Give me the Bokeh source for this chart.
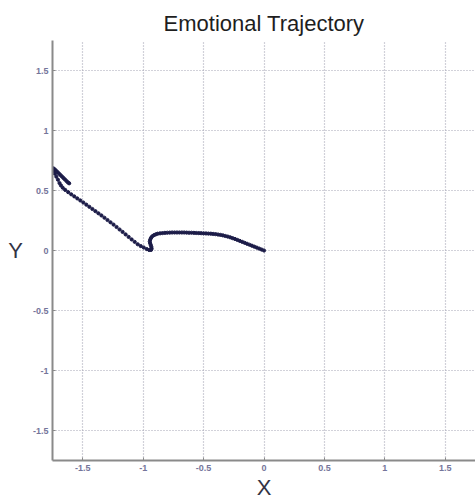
from bokeh.plotting import figure
from bokeh.models import Range1d, FixedTicker
from bokeh.embed import file_html
from bokeh.resources import INLINE

title_text = "Emotional Trajectory"
x_label = "X"
y_label = "Y"
tick_values = [-1.5, -1.0, -0.5, 0.0, 0.5, 1.0, 1.5]
tick_labels = ["-1.5", "-1", "-0.5", "0", "0.5", "1", "1.5"]

traj_x = [0.0, -0.02, -0.04, -0.06, -0.08, -0.10, -0.12, -0.14, -0.16, -0.18,
          -0.20, -0.22, -0.24, -0.26, -0.28, -0.30, -0.32, -0.34, -0.36, -0.38,
          -0.40, -0.42, -0.44, -0.46, -0.48, -0.50, -0.52, -0.54, -0.56, -0.58,
          -0.60, -0.62, -0.64, -0.66, -0.68, -0.70, -0.72, -0.74, -0.76, -0.78,
          -0.80, -0.82, -0.84, -0.86, -0.88, -0.895, -0.91, -0.925, -0.935, -0.942,
          -0.945, -0.942, -0.937, -0.932, -0.930, -0.935, -0.950, -0.970,
          -0.995, -1.02, -1.045, -1.07, -1.095, -1.12, -1.145, -1.17, -1.195, -1.22,
          -1.245, -1.27, -1.295, -1.32, -1.345, -1.37, -1.395, -1.42, -1.445, -1.47,
          -1.495, -1.52, -1.545, -1.57, -1.595, -1.62, -1.645, -1.665, -1.68, -1.692,
          -1.705, -1.718, -1.730, -1.740, -1.748, -1.738, -1.725, -1.712, -1.699, -1.686,
          -1.673, -1.660, -1.647, -1.634, -1.622, -1.612]
traj_y = [0.0, 0.008, 0.016, 0.024, 0.032, 0.040, 0.048, 0.056, 0.064, 0.072,
          0.080, 0.088, 0.096, 0.103, 0.110, 0.116, 0.121, 0.126, 0.130, 0.133,
          0.136, 0.138, 0.140, 0.141, 0.142, 0.143, 0.144, 0.145, 0.146, 0.147,
          0.148, 0.148, 0.149, 0.150, 0.150, 0.150, 0.150, 0.150, 0.150, 0.149,
          0.148, 0.147, 0.145, 0.143, 0.140, 0.135, 0.128, 0.118, 0.105, 0.090,
          0.075, 0.060, 0.045, 0.030, 0.015, 0.005, 0.004, 0.012,
          0.025, 0.037, 0.052, 0.072, 0.092, 0.113, 0.134, 0.155, 0.175, 0.196,
          0.216, 0.235, 0.254, 0.273, 0.292, 0.310, 0.328, 0.346, 0.364, 0.382,
          0.400, 0.417, 0.434, 0.451, 0.468, 0.486, 0.505, 0.523, 0.542, 0.562,
          0.590, 0.615, 0.640, 0.662, 0.685, 0.682, 0.670, 0.657, 0.644, 0.631,
          0.618, 0.605, 0.592, 0.579, 0.567, 0.560]

p = figure(width=475, height=502, output_backend="svg", toolbar_location=None,
           x_range=Range1d(-1.75, 1.75), y_range=Range1d(-1.75, 1.75),
           min_border_left=52, min_border_right=0, min_border_top=40, min_border_bottom=39,
           title=title_text)
p.outline_line_color = None
p.background_fill_color = "white"
p.border_fill_color = "white"

p.title.align = "center"
p.title.text_font = "Liberation Sans"
p.title.text_font_size = "22px"
p.title.text_font_style = "normal"
p.title.text_color = "#1e1e1e"
p.title.standoff = 10

p.xaxis.axis_label = x_label
p.yaxis.axis_label = y_label
try:
    p.yaxis[0].axis_label_orientation = "horizontal"
except Exception:
    pass

for ax in (p.xaxis[0], p.yaxis[0]):
    ax.ticker = FixedTicker(ticks=tick_values)
    ax.major_label_overrides = {v: s for v, s in zip(tick_values, tick_labels)}
    ax.axis_line_color = "#8a8a8a"
    ax.axis_line_width = 2
    ax.major_tick_in = 3
    ax.major_tick_out = 0
    ax.major_tick_line_color = "#8a8a8a"
    ax.minor_tick_line_color = None
    ax.major_label_text_font = "Liberation Sans"
    ax.major_label_text_font_size = "9px"
    ax.major_label_text_font_style = "bold"
    ax.major_label_text_color = "#75759a"
    ax.major_label_standoff = 4
    ax.axis_label_text_font = "Liberation Sans"
    ax.axis_label_text_font_size = "22px"
    ax.axis_label_text_font_style = "normal"
    ax.axis_label_text_color = "#333344"

p.xaxis[0].axis_label_standoff = 1
p.yaxis[0].axis_label_standoff = 7

for g in (p.xgrid[0], p.ygrid[0]):
    g.ticker = FixedTicker(ticks=tick_values)
    g.grid_line_color = "#a4a4b4"
    g.grid_line_dash = "1 2"
    g.grid_line_width = 1.2

p.scatter(traj_x, traj_y, size=3.2, color="#1c1c48")

open("out.html", "w").write(file_html(p, INLINE))
